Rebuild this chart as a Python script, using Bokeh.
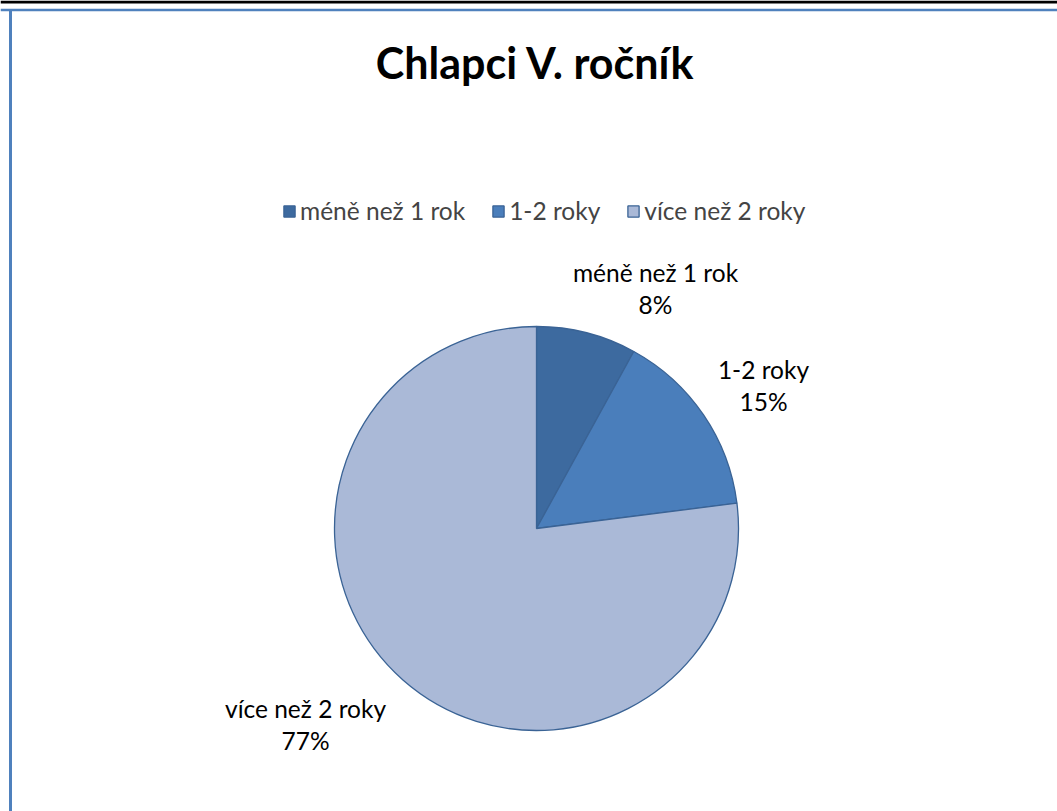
import math
from bokeh.plotting import figure
from bokeh.models import ColumnDataSource, Range1d, Legend, LegendItem, Span
from bokeh.core.properties import value
from bokeh.embed import file_html
from bokeh.resources import INLINE

# ---- data ----
categories = ["méně než 1 rok", "1-2 roky", "více než 2 roky"]
percents = [8, 15, 77]
colors = ["#3D6A9F", "#4A7EBB", "#AAB9D7"]
title_text = "Chlapci V. ročník"

# ---- layout (1 data unit = 1 px, y up) ----
W, H = 1057, 811
CX, CY, R = 536, 283, 202
FONT = "Lato"
label_dx = [119, 227, -231]
label_dy = [240, 143, -196]

total = sum(percents)
starts, ends, cum = [], [], 0.0
for v in percents:
    starts.append(math.pi / 2 - 2 * math.pi * (cum + v) / total)
    ends.append(math.pi / 2 - 2 * math.pi * cum / total)
    cum += v

src = ColumnDataSource(dict(
    cat=categories, pct=[f"{v}%" for v in percents], color=colors,
    start=starts, end=ends,
    x=[CX] * len(percents), y=[CY] * len(percents),
    lx=[CX + d for d in label_dx],
    ly1=[CY + d + 16 for d in label_dy],
    ly2=[CY + d - 16 for d in label_dy],
))

p = figure(width=W, height=H, x_range=Range1d(0, W), y_range=Range1d(0, H),
           x_axis_type=None, y_axis_type=None, toolbar_location=None,
           output_backend="svg", min_border=0, outline_line_color=None)
p.grid.visible = False
p.background_fill_color = "white"

wr = p.wedge(x="x", y="y", radius=R, start_angle="start", end_angle="end",
             direction="anticlock", fill_color="color", line_color="#3A6395",
             line_width=1.3, source=src)

for col, dy in (("cat", "ly1"), ("pct", "ly2")):
    p.text(x="lx", y=dy, text=col, source=src, text_align="center",
           text_baseline="middle", text_font=value(FONT), text_font_size="24.5px",
           text_color="black")

# title
p.text(x=[535], y=[H - 62], text=[title_text], text_align="center",
       text_baseline="middle", text_font=value(FONT), text_font_size="43px",
       text_font_style="bold", text_color="black")

legend = Legend(items=[LegendItem(label=c, renderers=[wr], index=i)
                       for i, c in enumerate(categories)],
                orientation="horizontal", location=(282, H - 212 - 13),
                glyph_width=14, glyph_height=14, label_standoff=4, spacing=26,
                padding=0, margin=0, border_line_color=None,
                background_fill_alpha=0, label_text_font=FONT,
                label_text_font_size="24.5px", label_height=26)
p.add_layout(legend, "center")

# chart-area border (left and top edges visible) and top black rule
p.segment(x0=[10], y0=[0], x1=[10], y1=[H - 9], line_color="#4F81BD", line_width=3)
p.add_layout(Span(location=H - 9.5, dimension="width", line_color="#4F81BD", line_width=2.5))
p.add_layout(Span(location=H - 1.5, dimension="width", line_color="black", line_width=3))

open("out.html", "w").write(file_html(p, INLINE))
